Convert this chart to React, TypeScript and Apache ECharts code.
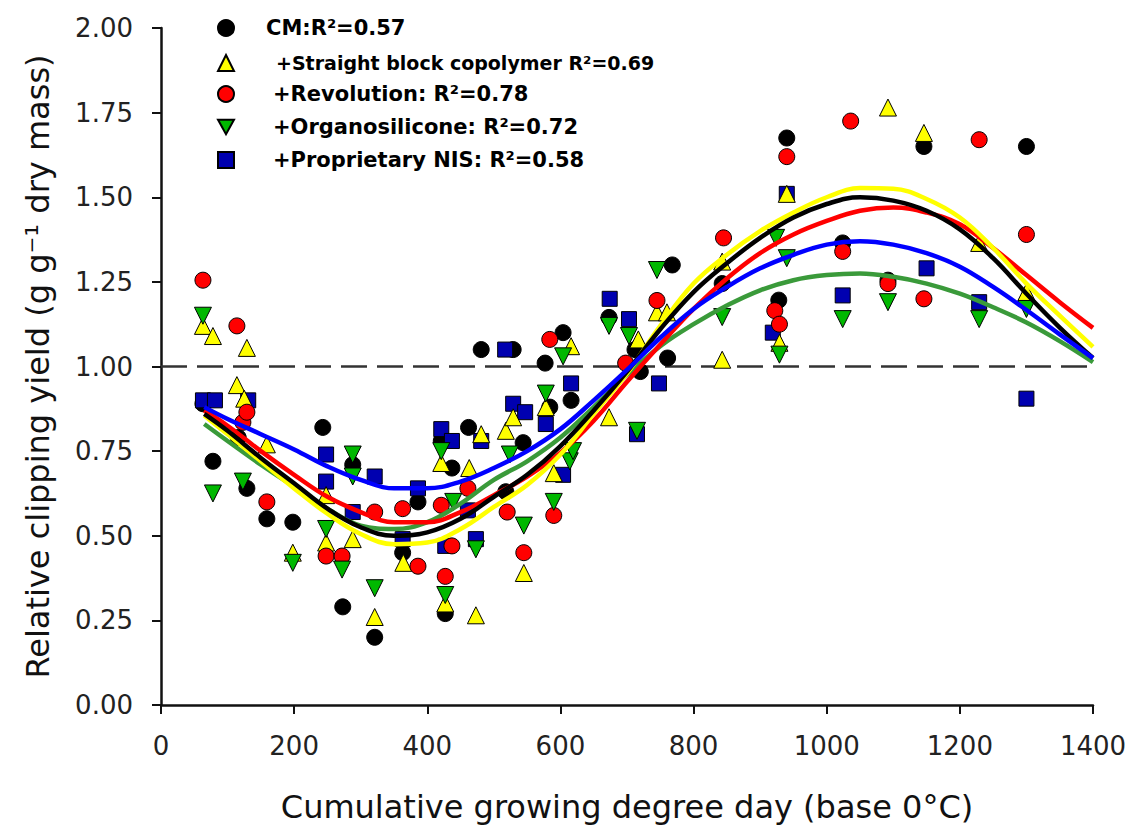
import React, { useEffect, useRef } from 'react';
import * as echarts from 'echarts';

// ---- scatter data: [cumulative GDD, relative clipping yield] ----
const cmPoints: [number, number][] = [
  [63, 0.89], [78, 0.72], [116, 0.79], [129, 0.64], [159, 0.55], [198, 0.54], [243, 0.82], [273, 0.29],
  [288, 0.71], [321, 0.2], [363, 0.45], [386, 0.6], [421, 0.78], [427, 0.27], [437, 0.7], [462, 0.82],
  [481, 1.05], [518, 0.63], [529, 1.05], [544, 0.775], [577, 1.01], [584, 0.88], [604, 1.1], [616, 0.9],
  [673, 1.145], [712, 1.05], [720, 0.985], [761, 1.025], [768, 1.3], [843, 1.245], [928, 1.196], [940, 1.675],
  [1024, 1.365], [1092, 1.255], [1146, 1.65], [1300, 1.65],
];
const sbcPoints: [number, number][] = [
  [63, 1.12], [78, 1.09], [114, 0.945], [125, 0.905], [129, 1.055], [159, 0.77], [198, 0.45], [248, 0.62],
  [248, 0.48], [288, 0.49], [321, 0.26], [364, 0.42], [421, 0.715], [427, 0.3], [463, 0.7], [473, 0.265],
  [481, 0.8], [518, 0.81], [529, 0.85], [545, 0.39], [578, 0.88], [590, 0.685], [616, 1.06], [673, 0.85],
  [717, 1.08], [745, 1.16], [760, 1.16], [843, 1.31], [843, 1.02], [929, 1.07], [940, 1.51], [1092, 1.765],
  [1146, 1.69], [1229, 1.365], [1300, 1.22],
];
const revPoints: [number, number][] = [
  [63, 1.255], [114, 1.12], [123, 0.835], [129, 0.865], [159, 0.6], [248, 0.44], [272, 0.44], [321, 0.57],
  [363, 0.58], [386, 0.41], [421, 0.59], [427, 0.38], [437, 0.47], [461, 0.64], [520, 0.57], [545, 0.45],
  [584, 1.08], [590, 0.56], [698, 1.01], [745, 1.195], [845, 1.38], [922, 1.165], [929, 1.125], [940, 1.62],
  [1024, 1.34], [1036, 1.725], [1092, 1.245], [1146, 1.2], [1229, 1.67], [1300, 1.39],
];
const orgPoints: [number, number][] = [
  [63, 1.15], [78, 0.625], [123, 0.66], [198, 0.42], [248, 0.52], [272, 0.4], [288, 0.74], [288, 0.675],
  [321, 0.345], [421, 0.75], [427, 0.325], [439, 0.6], [473, 0.46], [524, 0.74], [545, 0.53], [578, 0.92],
  [590, 0.6], [604, 1.03], [614, 0.72], [619, 0.75], [673, 1.12], [703, 1.09], [715, 0.81], [745, 1.285],
  [843, 1.146], [924, 1.38], [929, 1.035], [940, 1.32], [1024, 1.14], [1092, 1.19], [1229, 1.14], [1300, 1.17],
];
const nisPoints: [number, number][] = [
  [63, 0.9], [81, 0.9], [131, 0.9], [248, 0.74], [248, 0.66], [288, 0.57], [321, 0.675], [363, 0.49],
  [386, 0.64], [421, 0.815], [427, 0.47], [437, 0.78], [461, 0.575], [473, 0.49], [481, 0.78], [517, 1.05],
  [529, 0.89], [547, 0.865], [578, 0.83], [604, 0.68], [616, 0.95], [674, 1.2], [703, 1.14], [715, 0.8],
  [748, 0.95], [919, 1.1], [940, 1.51], [1024, 1.21], [1150, 1.29], [1229, 1.19], [1300, 0.905],
];

// ---- fitted curves, every 50 GDD ----
const curveX = [65, 100, 150, 200, 250, 300, 350, 400, 450, 500, 550, 600, 650, 700, 750, 800, 850, 900, 950, 1000, 1050, 1100, 1150, 1200, 1250, 1300, 1350, 1400];
const cmCurveY = [0.86, 0.81, 0.73, 0.655, 0.58, 0.525, 0.5, 0.51, 0.55, 0.615, 0.68, 0.765, 0.87, 0.985, 1.11, 1.22, 1.305, 1.38, 1.44, 1.48, 1.5, 1.49, 1.46, 1.405, 1.32, 1.215, 1.115, 1.025];
const sbcCurveY = [0.855, 0.8, 0.72, 0.64, 0.565, 0.505, 0.475, 0.48, 0.52, 0.585, 0.65, 0.74, 0.86, 0.98, 1.12, 1.245, 1.33, 1.4, 1.455, 1.5, 1.527, 1.525, 1.495, 1.44, 1.35, 1.245, 1.15, 1.058];
const revCurveY = [0.87, 0.825, 0.75, 0.68, 0.615, 0.57, 0.54, 0.54, 0.57, 0.62, 0.675, 0.745, 0.84, 0.955, 1.065, 1.17, 1.26, 1.335, 1.39, 1.43, 1.46, 1.47, 1.455, 1.42, 1.35, 1.27, 1.19, 1.114];
const orgCurveY = [0.83, 0.78, 0.71, 0.645, 0.58, 0.53, 0.52, 0.54, 0.595, 0.665, 0.72, 0.79, 0.88, 0.975, 1.06, 1.125, 1.18, 1.225, 1.255, 1.27, 1.275, 1.265, 1.245, 1.215, 1.175, 1.13, 1.075, 1.013];
const nisCurveY = [0.88, 0.845, 0.8, 0.755, 0.705, 0.665, 0.64, 0.64, 0.66, 0.7, 0.75, 0.815, 0.9, 0.99, 1.085, 1.17, 1.235, 1.29, 1.33, 1.36, 1.37, 1.36, 1.335, 1.295, 1.235, 1.167, 1.095, 1.025];

const referenceLine: [number, number][] = [[0, 1], [1400, 1]];

const seriesNames = [
  'CM:R²=0.57',
  '+Straight block copolymer R²=0.69',
  '+Revolution: R²=0.78',
  '+Organosilicone: R²=0.72',
  '+Proprietary NIS: R²=0.58',
];

const X_MIN = 0, X_MAX = 1400, X_STEP = 200;
const Y_MIN = 0, Y_MAX = 2, Y_STEP = 0.25;

const FONT = 'DejaVu Sans';

export default function App() {
  const ref = useRef<HTMLDivElement>(null);

  useEffect(() => {
    if (!ref.current) return;
    const chart = echarts.init(ref.current, undefined, { renderer: 'svg' });

    const scatter = (name: string, data: [number, number][], symbol: string, size: number, color: string, rotate = 0) => ({
      name,
      type: 'scatter',
      data,
      symbol,
      symbolSize: size,
      symbolRotate: rotate,
      z: 2,
      itemStyle: { color, borderColor: '#000', borderWidth: 1, opacity: 1 },
      emphasis: { disabled: true },
    });

    const curve = (ys: number[], color: string, z: number) => ({
      type: 'line',
      data: curveX.map((x, i) => [x, ys[i]]),
      smooth: 0.4,
      showSymbol: false,
      symbol: 'none',
      z,
      lineStyle: { color, width: 4.5 },
      emphasis: { disabled: true },
    });

    const legendItem = (name: string, top: number, pad: number, fontSize: number, icon?: string) => ({
      data: [icon ? { name, icon } : name],
      left: 217,
      top,
      itemWidth: 16,
      itemHeight: 16,
      padding: 0,
      itemGap: 0,
      selectedMode: false,
      textStyle: { fontFamily: FONT, fontWeight: 'bold', fontSize, color: '#000', lineHeight: 24, padding: [0, 0, 0, pad] },
    });

    chart.setOption({
      animation: false,
      backgroundColor: '#fff',
      grid: { left: 161, top: 28, width: 932, height: 677, containLabel: false },
      legend: [
        legendItem(seriesNames[0], 16, 27, 21),
        legendItem(seriesNames[1], 51, 37, 19),
        legendItem(seriesNames[2], 82, 34, 21),
        legendItem(seriesNames[3], 115, 34, 21, 'path://M0,0 L10,0 L5,9 Z'),
        legendItem(seriesNames[4], 148, 34, 21),
      ],
      xAxis: {
        type: 'value',
        min: X_MIN,
        max: X_MAX,
        interval: X_STEP,
        name: 'Cumulative growing degree day (base 0°C)',
        nameLocation: 'middle',
        nameGap: 86,
        nameTextStyle: { fontFamily: FONT, fontSize: 32, color: '#111' },
        axisLine: { show: true, lineStyle: { color: '#111', width: 2.5 } },
        axisTick: { show: true, inside: false, length: 9, lineStyle: { color: '#111', width: 2 } },
        axisLabel: { fontFamily: FONT, fontSize: 26, color: '#222', margin: 28, formatter: (v: number) => String(v) },
        splitLine: { show: false },
      },
      yAxis: {
        type: 'value',
        min: Y_MIN,
        max: Y_MAX,
        interval: Y_STEP,
        name: 'Relative clipping yield (g g⁻¹ dry mass)',
        nameLocation: 'middle',
        nameGap: 107,
        nameTextStyle: { fontFamily: FONT, fontSize: 32, color: '#111' },
        axisLine: { show: true, lineStyle: { color: '#111', width: 2.5 } },
        axisTick: { show: true, inside: false, length: 9, lineStyle: { color: '#111', width: 2 } },
        axisLabel: { fontFamily: FONT, fontSize: 26, color: '#222', margin: 28, formatter: (v: number) => v.toFixed(2) },
        splitLine: { show: false },
      },
      series: [
        {
          type: 'line',
          data: referenceLine,
          symbol: 'none',
          z: 1,
          lineStyle: { color: '#333', width: 2.5, type: [26, 10] },
          emphasis: { disabled: true },
        },
        scatter(seriesNames[0], cmPoints, 'circle', 16, '#000000'),
        scatter(seriesNames[4], nisPoints, 'rect', 15, '#0000b0'),
        scatter(seriesNames[1], sbcPoints, 'triangle', 17, '#ffff00'),
        scatter(seriesNames[2], revPoints, 'circle', 16, '#ff0000'),
        scatter(seriesNames[3], orgPoints, 'triangle', 17, '#00b800', 180),
        curve(orgCurveY, '#3a9a3a', 5),
        curve(revCurveY, '#ff0000', 6),
        curve(sbcCurveY, '#ffff00', 7),
        curve(cmCurveY, '#000000', 8),
        curve(nisCurveY, '#0000ff', 9),
      ],
    });

    return () => chart.dispose();
  }, []);

  return (
    <div
      ref={ref}
      style={{ position: 'absolute', left: 0, top: 0, width: 1131, height: 830, background: '#fff' }}
    />
  );
}
